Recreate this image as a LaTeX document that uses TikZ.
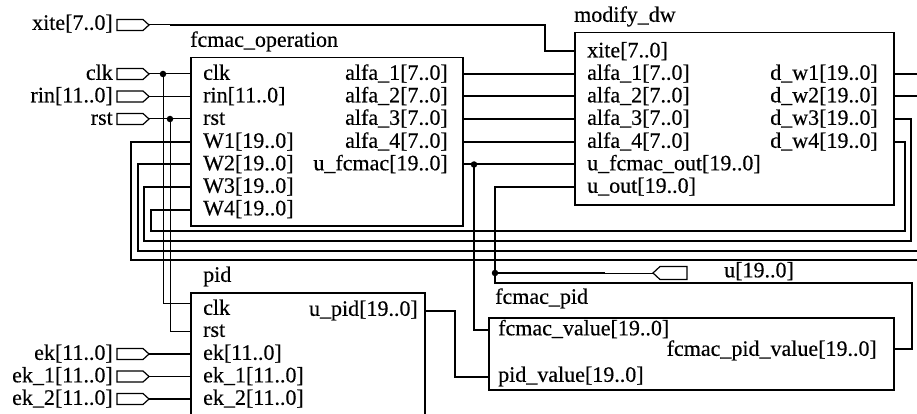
\documentclass[tikz,border=0pt]{standalone}
\usepackage{fontspec}
\setmainfont{Liberation Serif}[FakeBold=0.4]
\begin{document}
\begin{tikzpicture}[x=1pt,y=-1pt,
  blockbox/.style={draw, line width=1.5pt, anchor=north west, inner sep=0pt},
  txt/.style={font=\fontsize{22}{26}\selectfont, inner sep=0pt},
  portl/.style={txt, anchor=mid west, yshift=-2.5pt},
  portr/.style={txt, anchor=mid east, yshift=-2.5pt},
  wire/.style={line width=1pt, line join=miter},
  bus/.style={line width=2pt, line join=miter},
  stub/.style={line width=1.3pt},
  pinline/.style={line width=1.2pt, line join=miter},
  junction/.style={circle, fill, inner sep=0pt, minimum size=6.5pt},
  inpin/.pic={\draw[pinline] (-32,-5.5) -- (-6,-5.5) -- (0,0) -- (-6,5.5) -- (-32,5.5) -- cycle;
              \coordinate (-tip) at (0,0);},
  outpin/.pic={\draw[pinline] (0,0) -- (7,-6.5) -- (34,-6.5) -- (34,6.5) -- (7,6.5) -- cycle;
               \coordinate (-tip) at (0,0);},
]
\useasboundingbox (0,0) rectangle (917,414);

% ---------- blocks ----------
\node[blockbox, minimum width=272pt, minimum height=168pt] (op)  at (190,57)  {};
\node[blockbox, minimum width=319pt, minimum height=172pt] (mdw) at (574,32)  {};
\node[blockbox, minimum width=234pt, minimum height=140pt] (pid) at (190,292) {};
\node[blockbox, minimum width=405pt, minimum height=72pt]  (fp)  at (488,317) {};

\node[portl] (op-title)  at (190,42)  {fcmac\_operation};
\node[portl] (mdw-title) at (574,17)  {modify\_dw};
\node[portl] (pid-title) at (203,277) {pid};
\node[portl] (fp-title)  at (495,299) {fcmac\_pid};

% ---------- fcmac_operation ports ----------
\node[portl] (op-clk-t) at (203,75)    {clk};
\node[portl] (op-rin-t) at (203,97.5)  {rin[11..0]};
\node[portl] (op-rst-t) at (203,120)   {rst};
\node[portl] (op-w1-t)  at (203,143)   {W1[19..0]};
\node[portl] (op-w2-t)  at (203,165.5) {W2[19..0]};
\node[portl] (op-w3-t)  at (203,188)   {W3[19..0]};
\node[portl] (op-w4-t)  at (203,210.5) {W4[19..0]};
\node[portr] (op-a1-t)  at (448,75)    {alfa\_1[7..0]};
\node[portr] (op-a2-t)  at (448,97.5)  {alfa\_2[7..0]};
\node[portr] (op-a3-t)  at (448,120)   {alfa\_3[7..0]};
\node[portr] (op-a4-t)  at (448,143)   {alfa\_4[7..0]};
\node[portr] (op-uf-t)  at (448,165.5) {u\_fcmac[19..0]};

\coordinate (op-clk) at (190,74);
\coordinate (op-rin) at (190,96.5);
\coordinate (op-rst) at (190,119);
\coordinate (op-w1)  at (190,142);
\coordinate (op-w2)  at (190,164.5);
\coordinate (op-w3)  at (190,187);
\coordinate (op-w4)  at (190,209.5);
\coordinate (op-a1)  at (462,74);
\coordinate (op-a2)  at (462,96.5);
\coordinate (op-a3)  at (462,119);
\coordinate (op-a4)  at (462,142);
\coordinate (op-uf)  at (462,164.5);

% ---------- modify_dw ports ----------
\node[portl] (mdw-xite-t) at (587,52.5)  {xite[7..0]};
\node[portl] (mdw-a1-t)   at (587,75)    {alfa\_1[7..0]};
\node[portl] (mdw-a2-t)   at (587,97.5)  {alfa\_2[7..0]};
\node[portl] (mdw-a3-t)   at (587,120)   {alfa\_3[7..0]};
\node[portl] (mdw-a4-t)   at (587,143)   {alfa\_4[7..0]};
\node[portl] (mdw-uf-t)   at (587,165.5) {u\_fcmac\_out[19..0]};
\node[portl] (mdw-uo-t)   at (587,188)   {u\_out[19..0]};
\node[portr] (mdw-d1-t)   at (878,75)    {d\_w1[19..0]};
\node[portr] (mdw-d2-t)   at (878,97.5)  {d\_w2[19..0]};
\node[portr] (mdw-d3-t)   at (878,120)   {d\_w3[19..0]};
\node[portr] (mdw-d4-t)   at (878,143)   {d\_w4[19..0]};

\coordinate (mdw-xite) at (574,51.5);
\coordinate (mdw-a1)   at (574,74);
\coordinate (mdw-a2)   at (574,96.5);
\coordinate (mdw-a3)   at (574,119);
\coordinate (mdw-a4)   at (574,142);
\coordinate (mdw-uf)   at (574,164.5);
\coordinate (mdw-uo)   at (574,187);
\coordinate (mdw-d1)   at (893,74);
\coordinate (mdw-d2)   at (893,96.5);
\coordinate (mdw-d3)   at (893,119);
\coordinate (mdw-d4)   at (893,142);

% ---------- pid ports ----------
\node[portl] (pid-clk-t) at (203,310)   {clk};
\node[portl] (pid-rst-t) at (203,332)   {rst};
\node[portl] (pid-ek-t)  at (203,355)   {ek[11..0]};
\node[portl] (pid-ek1-t) at (203,377.5) {ek\_1[11..0]};
\node[portl] (pid-ek2-t) at (203,400)   {ek\_2[11..0]};
\node[portr] (pid-u-t)   at (418,311)   {u\_pid[19..0]};

\coordinate (pid-clk) at (190,303);
\coordinate (pid-rst) at (190,331);
\coordinate (pid-ek)  at (190,354);
\coordinate (pid-ek1) at (190,376.5);
\coordinate (pid-ek2) at (190,399);
\coordinate (pid-u)   at (424,311);

% ---------- fcmac_pid ports ----------
\node[portl] (fp-fv-t) at (498,330.5) {fcmac\_value[19..0]};
\node[portr] (fp-out-t) at (877,351)  {fcmac\_pid\_value[19..0]};
\node[portl] (fp-pv-t) at (498,377) {pid\_value[19..0]};

\coordinate (fp-fv)  at (488,330);
\coordinate (fp-out) at (893,349);
\coordinate (fp-pv)  at (488,377);

% ---------- top-level pins ----------
\pic (xitepin) at (149,25)    {inpin};
\pic (clkpin)  at (149,74)    {inpin};
\pic (rinpin)  at (149,96.5)  {inpin};
\pic (rstpin)  at (149,119)   {inpin};
\pic (ekpin)   at (149,354)   {inpin};
\pic (ek1pin)  at (149,376.5) {inpin};
\pic (ek2pin)  at (149,399)   {inpin};
\pic (upin)    at (653,273)   {outpin};

\node[portr] (xite-l) at (113,25)    {xite[7..0]};
\node[portr] (clk-l)  at (113,75)    {clk};
\node[portr] (rin-l)  at (113,97.5)  {rin[11..0]};
\node[portr] (rst-l)  at (113,120)   {rst};
\node[portr] (ek-l)   at (113,355)   {ek[11..0]};
\node[portr] (ek1-l)  at (113,377.5) {ek\_1[11..0]};
\node[portr] (ek2-l)  at (113,400)   {ek\_2[11..0]};
\node[portl] (u-l)    at (724,272.5) {u[19..0]};

% ---------- junctions ----------
\node[junction] (jclk) at (163,74)    {};
\node[junction] (jrst) at (170,119)   {};
\node[junction] (juf)  at (474,164.5) {};
\node[junction] (ju)   at (495,273)   {};

% ---------- single-bit nets ----------
\draw[wire] (clkpin-tip) -- (op-clk);
\draw[wire] (rstpin-tip) -- (op-rst);
\draw[wire] (jclk.center) -- (jclk.center |- pid-clk) -- (pid-clk);
\draw[wire] (jrst.center) -- (jrst.center |- pid-rst) -- (pid-rst);

% ---------- pin stubs ----------
\draw[stub] (rinpin-tip) -- (op-rin);
\draw[stub] (ekpin-tip)  -- (pid-ek);
\draw[stub] (ek1pin-tip) -- (pid-ek1);
\draw[stub] (ek2pin-tip) -- (pid-ek2);

% ---------- buses ----------
\coordinate (xite-bend) at (170,25);
\draw[wire] (xitepin-tip) -- (xite-bend);
\draw[bus] (xite-bend) -| (545,51.5) -- (mdw-xite);

\draw[bus] (op-a1) -- (mdw-a1);
\draw[bus] (op-a2) -- (mdw-a2);
\draw[bus] (op-a3) -- (mdw-a3);
\draw[bus] (op-a4) -- (mdw-a4);
\draw[bus] (op-uf) -- (mdw-uf);

% weight feedback loops d_wN -> WN
\draw[bus] (op-w1) -| (131,259.5) -| (923,74)  -- (mdw-d1);
\draw[bus] (op-w2) -| (137.5,250.5) -| (917.5,96.5) -- (mdw-d2);
\draw[bus] (op-w3) -| (144,240.5) -| (910.5,119) -- (mdw-d3);
\draw[bus] (op-w4) -| (150.5,230.5) -| (904.5,142) -- (mdw-d4);

% controller outputs into fcmac_pid
\draw[bus] (juf.center) |- (fp-fv);
\draw[bus] (pid-u) -| (455,377) -- (fp-pv);

% combined output u
\draw[bus] (mdw-uo) -| (495,283) -| (912,349) -- (fp-out);
\coordinate (u-bend) at (605,273);
\draw[bus] (ju.center) -- (u-bend);
\draw[wire] (u-bend) -- (upin-tip);

\end{tikzpicture}
\end{document}
